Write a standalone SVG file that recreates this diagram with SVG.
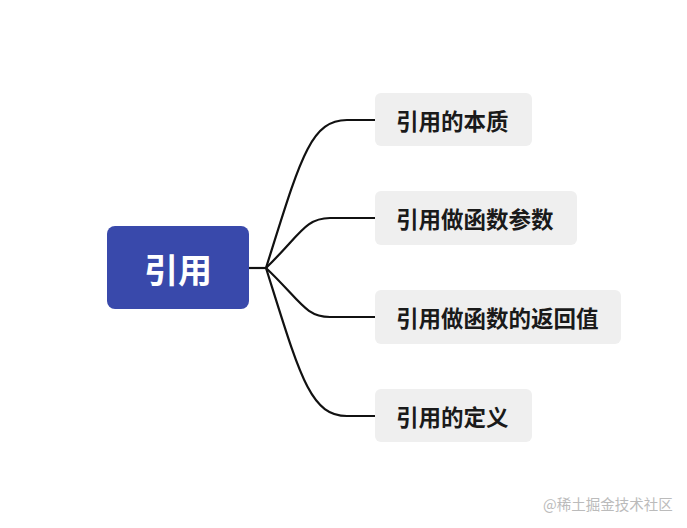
<svg xmlns="http://www.w3.org/2000/svg" width="687" height="528" viewBox="0 0 687 528">
<style>
.sub rect{fill:#EFEFEF}
.sub text{font-family:"Noto Sans CJK SC","Noto Sans",sans-serif;font-weight:bold;font-size:22.5px;fill:#1a1a1a;dominant-baseline:central}
.conn path{fill:none;stroke:#111;stroke-width:2.2}
</style>
<rect width="687" height="528" fill="#fff"/>
<g class="conn" id="connectors">
<path d="M249,268 H266"/>
<path d="M266,268 C300,160 310,120 347,120 H375"/>
<path d="M266,268 C300,235 305,218 330,218 H375"/>
<path d="M266,268 C300,300 305,317 330,317 H375"/>
<path d="M266,268 C300,376 310,416 347,416 H375"/>
</g>
<g id="root">
<rect x="107" y="226" width="142" height="83" rx="8" fill="#3949AB"/>
<text x="178" y="268" text-anchor="middle" dominant-baseline="central" font-family="'Noto Sans CJK SC',sans-serif" font-weight="bold" font-size="34" fill="#fff">引用</text>
</g>
<g class="sub" id="n1"><rect x="375" y="93" width="157" height="53" rx="6"/><text x="396" y="120">引用的本质</text></g>
<g class="sub" id="n2"><rect x="375" y="191" width="202" height="54" rx="6"/><text x="396" y="218">引用做函数参数</text></g>
<g class="sub" id="n3"><rect x="375" y="290" width="246" height="54" rx="6"/><text x="396" y="317">引用做函数的返回值</text></g>
<g class="sub" id="n4"><rect x="375" y="389" width="157" height="53" rx="6"/><text x="396" y="416">引用的定义</text></g>
<text x="543" y="503" dominant-baseline="central" font-family="'Noto Sans CJK SC',sans-serif" font-size="14.5" fill="#BBBBBB">@稀土掘金技术社区</text>
</svg>
